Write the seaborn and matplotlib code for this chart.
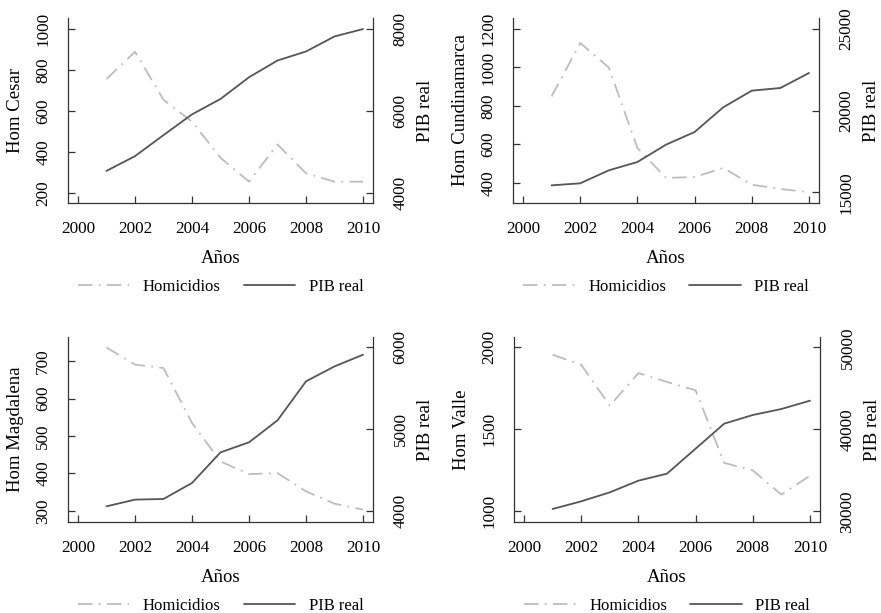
import matplotlib
matplotlib.use("Agg")
import matplotlib.pyplot as plt
import seaborn as sns
from matplotlib.lines import Line2D

years = [2001, 2002, 2003, 2004, 2005, 2006, 2007, 2008, 2009, 2010]

hom_cesar = [756, 889, 655, 548, 372, 255, 437, 296, 255, 255]
pib_cesar = [4539, 4898, 5412, 5918, 6294, 6824, 7233, 7453, 7820, 8000]

hom_cund = [850, 1127, 1000, 582, 426, 431, 478, 391, 369, 352]
pib_cund = [15429, 15551, 16347, 16857, 17919, 18694, 20204, 21225, 21388, 22306]

hom_magd = [737, 691, 682, 535, 432, 398, 401, 352, 319, 303]
pib_magd = [4053, 4135, 4143, 4339, 4714, 4837, 5106, 5584, 5767, 5910]

hom_valle = [1955, 1894, 1644, 1843, 1789, 1738, 1295, 1250, 1102, 1217]
pib_valle = [30285, 31220, 32317, 33740, 34594, 37642, 40691, 41748, 42480, 43496]

x_ticks = [2000, 2002, 2004, 2006, 2008, 2010]

sns.set_style("ticks")
plt.rcParams["font.family"] = ["Liberation Serif", "DejaVu Serif"]
plt.rcParams["font.size"] = 12
plt.rcParams["text.color"] = "black"
plt.rcParams["axes.labelcolor"] = "black"

HOM_COLOR = "#bdbdbd"
PIB_COLOR = "#555555"
AX_COLOR = "#333333"
W, H = 881, 613

# (ylabel, homicidios, pib, left ticks, right ticks, left ylim, right ylim, pixel box)
panels = [
    ("Hom Cesar", hom_cesar, pib_cesar, [200, 400, 600, 800, 1000], [4000, 6000, 8000],
     (151, 1054), (3755, 8270), (68, 18, 373, 203)),
    ("Hom Cundinamarca", hom_cund, pib_cund, [400, 600, 800, 1000, 1200], [15000, 20000, 25000],
     (296, 1257), (14347, 25673), (513, 18, 819, 203)),
    ("Hom Magdalena", hom_magd, pib_magd, [300, 400, 500, 600, 700], [4000, 5000, 6000],
     (270, 765), (3861, 6127), (68, 337, 373, 522)),
    ("Hom Valle", hom_valle, pib_valle, [1000, 1500, 2000], [30000, 40000, 50000],
     (935, 2063), (28699, 51260), (514, 337, 820, 522)),
]

fig = plt.figure(figsize=(W / 100, H / 100), dpi=100)

for label, hom, pib, lt, rt, ylim_l, ylim_r, box in panels:
    x0, y0, x1, y1 = box
    ax = fig.add_axes([x0 / W, 1 - y1 / H, (x1 - x0) / W, (y1 - y0) / H])
    ax2 = ax.twinx()

    sns.lineplot(x=years, y=hom, ax=ax, color=HOM_COLOR, lw=1.3)
    ax.lines[-1].set_linestyle((0, (8, 3.5, 1, 3.5)))
    sns.lineplot(x=years, y=pib, ax=ax2, color=PIB_COLOR, lw=1.3)

    ax.set_xlim(1999.65, 2010.35)
    ax.set_xticks(x_ticks)
    ax.set_ylim(*ylim_l)
    ax.set_yticks(lt)
    ax2.set_ylim(*ylim_r)
    ax2.set_yticks(rt)

    for a in (ax, ax2):
        a.spines["top"].set_visible(False)
        for s in a.spines.values():
            s.set_linewidth(0.9)
            s.set_color(AX_COLOR)
        a.tick_params(direction="in", length=5, width=0.9, color=AX_COLOR,
                      labelcolor="black", labelsize=12.3)
    ax.spines["right"].set_visible(False)
    ax2.spines["left"].set_visible(False)
    ax2.spines["bottom"].set_visible(False)

    ax.tick_params(axis="x", pad=13)
    ax.tick_params(axis="y", pad=12, labelrotation=90)
    ax2.tick_params(axis="y", pad=14, labelrotation=90)
    for t in ax.get_yticklabels():
        t.set_va("center")
    for t in ax2.get_yticklabels():
        t.set_va("center")

    ax.set_xlabel("Años", fontsize=13.5)
    ax.xaxis.set_label_coords(0.5, -0.255)
    ax.set_ylabel(label, fontsize=13.5)
    ax.yaxis.set_label_coords(-0.145, 0.5)
    ax2.set_ylabel("PIB real", fontsize=13.5)
    ax2.yaxis.set_label_coords(1.145, 0.5)

    handles = [
        Line2D([], [], color=HOM_COLOR, lw=1.3, linestyle=(0, (8, 3.5, 1, 3.5))),
        Line2D([], [], color=PIB_COLOR, lw=1.3),
    ]
    ax.legend(handles, ["Homicidios", "PIB real"], loc="center",
              bbox_to_anchor=(0.5, -0.455), ncol=2, frameon=False,
              handlelength=3.1, handletextpad=0.8, columnspacing=1.4,
              fontsize=12)

fig.savefig("out.png", dpi=100)
